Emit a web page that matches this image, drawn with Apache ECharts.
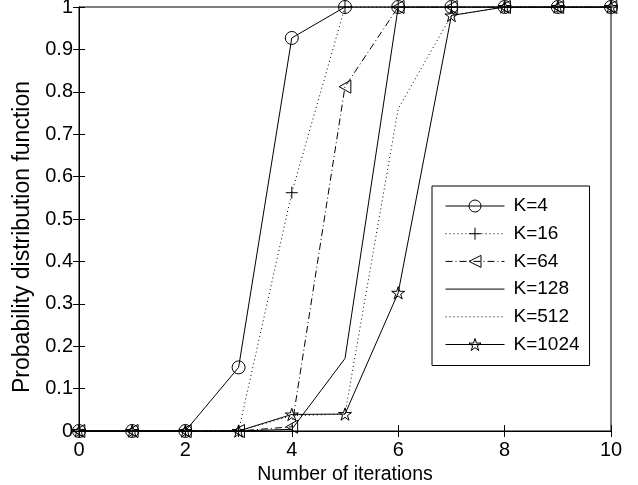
<!DOCTYPE html>
<html>
<head>
<meta charset="utf-8">
<script src="https://cdn.jsdelivr.net/npm/echarts@6/dist/echarts.min.js"></script>
<style>
  html, body { margin: 0; padding: 0; background: #fff; }
  #chart { width: 638px; height: 485px; }
</style>
</head>
<body>
<div id="chart"></div>
<script>
// iteration counts on the x axis
const iterations = [0, 1, 2, 3, 4, 5, 6, 7, 8, 9, 10];
// CDF values per K
const k4 = [0, 0, 0, 0.15, 0.927, 1, 1, 1, 1, 1, 1];
const k16 = [0, 0, 0, 0, 0.562, 1, 1, 1, 1, 1, 1];
const k64 = [0, 0, 0, 0, 0.01, 0.812, 1, 1, 1, 1, 1];
const k128 = [0, 0, 0, 0, 0.004, 0.171, 1, 1, 1, 1, 1];
const k512 = [0, 0, 0, 0, 0.036, 0.04, 0.76, 0.98, 1, 1, 1];
const k1024 = [0, 0, 0, 0, 0.039, 0.04, 0.326, 0.98, 1, 1, 1];
const seriesNames = ['K=4', 'K=16', 'K=64', 'K=128', 'K=512', 'K=1024'];
const plainLines = ['K=128', 'K=512'];
const xTicks = [0, 2, 4, 6, 8, 10];

const FONT = '"Liberation Sans", Arial, sans-serif';
const PLUS = 'path://M5,0 L5,10 M0,5 L10,5';
const TRI_LEFT = 'path://M0,5 L9,0 L9,10 Z';
const STAR = 'path://M5,0 L6.12,3.46 L9.76,3.45 L6.81,5.59 L7.94,9.05 L5,6.9 L2.06,9.05 L3.19,5.59 L0.24,3.45 L3.88,3.46 Z';

const chart = echarts.init(document.getElementById('chart'), null, { renderer: 'canvas' });

const hollow = { color: 'rgba(0,0,0,0)', borderColor: '#000', borderWidth: 1 };
const hidden = { color: 'rgba(0,0,0,0)', borderColor: 'rgba(0,0,0,0)', borderWidth: 0 };

function lineSeries(name, values, symbol, size, dash) {
  const noMarker = symbol === 'none';
  return {
    name,
    type: 'line',
    data: iterations.map((x, i) => [x, values[i]]),
    // plain lines keep a hidden circle so the legend shows no marker
    symbol: noMarker ? 'circle' : symbol,
    symbolSize: size,
    showSymbol: !noMarker,
    symbolKeepAspect: true,
    lineStyle: { color: '#000', width: 1, type: dash },
    itemStyle: noMarker ? hidden : hollow,
    emphasis: { disabled: true },
    z: 3,
  };
}

const ticksInside = { show: true, inside: true, length: 6, lineStyle: { color: '#000', width: 1 } };

chart.setOption({
  animation: false,
  backgroundColor: '#fff',
  textStyle: { fontFamily: FONT },
  grid: {
    left: 79, right: 27, top: 7, bottom: 54,
    outerBoundsMode: 'none', containLabel: false,
    show: true, borderColor: '#000', borderWidth: 1, backgroundColor: 'transparent',
  },
  legend: {
    orient: 'vertical',
    left: 432,
    top: 186,
    data: seriesNames.map((name) => ({
      name,
      itemStyle: plainLines.includes(name) ? hidden : hollow,
    })),
    itemWidth: 59,
    itemHeight: 15,
    itemGap: 8.7,
    padding: [10.5, 10, 11.5, 13],
    borderColor: '#000',
    borderWidth: 1,
    backgroundColor: '#fff',
    lineStyle: { width: 1 },
    textStyle: { fontFamily: FONT, fontSize: 19, color: '#000', padding: [0, 0, 0, 4] },
    selectedMode: false,
  },
  graphic: [{
    type: 'text',
    x: 23,
    y: 237,
    rotation: Math.PI / 2,
    style: {
      text: 'Probability distribution function',
      font: '23px "Liberation Sans", Arial, sans-serif',
      fill: '#000',
      align: 'center',
      verticalAlign: 'middle',
    },
  }],
  xAxis: [
    {
      type: 'value', min: 0, max: 10, interval: 2,
      name: 'Number of iterations', nameLocation: 'middle', nameGap: 30,
      nameTextStyle: { fontFamily: FONT, fontSize: 19.5, color: '#000' },
      axisLine: { show: true, lineStyle: { color: '#000', width: 1 } },
      axisTick: ticksInside,
      axisLabel: { fontFamily: FONT, fontSize: 20, color: '#000', margin: 9,
        formatter: (v) => xTicks.includes(v) ? String(v) : '' },
      splitLine: { show: false },
    },
    {
      type: 'value', min: 0, max: 10, interval: 2, position: 'top',
      axisLine: { show: true, lineStyle: { color: '#000', width: 1 } },
      axisTick: ticksInside, axisLabel: { show: false }, splitLine: { show: false },
    },
  ],
  yAxis: [
    {
      type: 'value', min: 0, max: 1, interval: 0.1,
      axisLine: { show: true, lineStyle: { color: '#000', width: 1 } },
      axisTick: ticksInside,
      axisLabel: { fontFamily: FONT, fontSize: 20, color: '#000', margin: 6,
        formatter: (v) => String(Math.round(v * 10) / 10) },
      splitLine: { show: false },
    },
    {
      type: 'value', min: 0, max: 1, interval: 0.1, position: 'right',
      axisLine: { show: true, lineStyle: { color: '#000', width: 1 } },
      axisTick: ticksInside, axisLabel: { show: false }, splitLine: { show: false },
    },
  ],
  series: [
    lineSeries('K=4', k4, 'circle', 13, 'solid'),
    lineSeries('K=16', k16, PLUS, 12, [1, 3]),
    lineSeries('K=64', k64, TRI_LEFT, 13, [7, 3, 1, 3]),
    lineSeries('K=128', k128, 'none', 0, 'solid'),
    lineSeries('K=512', k512, 'none', 0, [1, 3]),
    lineSeries('K=1024', k1024, STAR, 13, 'solid'),
  ],
});
</script>
</body>
</html>
